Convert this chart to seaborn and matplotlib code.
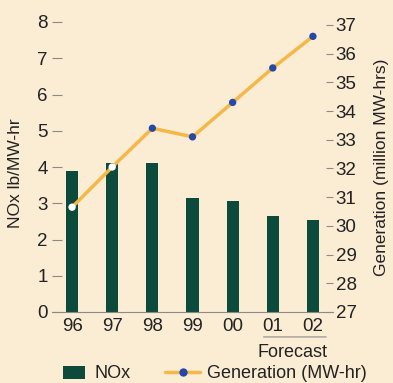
import numpy as np
import pandas as pd
import matplotlib
matplotlib.use("Agg")
import matplotlib.pyplot as plt
import seaborn as sns
from matplotlib.lines import Line2D
from matplotlib.patches import Patch

years = ["96", "97", "98", "99", "00", "01", "02"]
nox = [3.9, 4.1, 4.1, 3.15, 3.05, 2.65, 2.55]
generation = [30.65, 32.05, 33.4, 33.1, 34.3, 35.5, 36.6]
marker_fill = ["white", "white", "#2548a8", "#2548a8", "#2548a8", "#2548a8", "#2548a8"]

sns.set_style("white")
plt.rcParams['font.family'] = ['Liberation Sans', 'DejaVu Sans']

bg = "#fbecd4"
bar_color = "#0c4a3b"
line_color = "#f5b848"
grey = "#8a8a8a"
txt = "#222222"

df = pd.DataFrame({"year": years, "nox": nox, "generation": generation})

fig = plt.figure(figsize=(3.93, 3.83), dpi=100, facecolor=bg)
ax = fig.add_axes([52 / 393, 71 / 383, 281 / 393, 290 / 383])
ax.set_facecolor(bg)

sns.barplot(data=df, x="year", y="nox", color=bar_color, width=0.3,
            saturation=1, ax=ax, zorder=2, linewidth=0, edgecolor="none")
ax.set_xlim(-0.5, 6.5)
ax.set_ylim(0, 8)
ax.set_yticks(range(0, 9))
ax.set_xlabel("")
ax.set_ylabel("NOx lb/MW-hr", fontsize=12.5, color=txt)
ax.yaxis.set_label_coords(-29 / 281, 0.48)
ax.tick_params(axis="y", direction="in", length=7, width=0.8, color=grey,
               labelsize=13.5, pad=3, labelcolor=txt)
ax.tick_params(axis="x", length=0, labelsize=13.5, pad=4, labelcolor=txt)
for s in ["top", "left", "right"]:
    ax.spines[s].set_visible(False)
ax.spines["bottom"].set_color(grey)
ax.spines["bottom"].set_linewidth(0.8)

ax2 = ax.twinx()
x = np.arange(len(years))
ax2.plot(x, generation, color=line_color, lw=2.5, zorder=3)
ax2.scatter(x, generation, c=marker_fill, s=28, zorder=4, edgecolors="none")
ax2.set_ylim(27, 37.1)
ax2.set_yticks(range(27, 38))
ax2.set_ylabel("Generation (million MW-hrs)", fontsize=12.5, color=txt)
ax2.yaxis.set_label_coords(1 + 41 / 281, 0.5)
ax2.tick_params(axis="y", direction="in", length=5, width=0.8, color=grey,
                labelsize=13.5, pad=2, labelcolor=txt)
for s in ["top", "left", "right", "bottom"]:
    ax2.spines[s].set_visible(False)

# forecast bracket under 01-02
ax.annotate("", xy=(4.7, -0.086), xytext=(6.4, -0.086),
            xycoords=("data", "axes fraction"),
            arrowprops=dict(arrowstyle="-", color=grey, lw=0.8))
ax.text(5.5, -0.138, "Forecast", transform=ax.get_xaxis_transform(),
        ha="center", va="center", fontsize=13, color=txt)

fig.legend([Patch(facecolor=bar_color, edgecolor="none")], ["NOx"],
           loc="center left", bbox_to_anchor=(63 / 393, 1 - 374 / 383),
           frameon=False, fontsize=13, borderpad=0, borderaxespad=0,
           handlelength=1.2, handletextpad=0.55, labelcolor=txt)
fig.legend([Line2D([0], [0], color=line_color, lw=2.5, marker="o",
                   markerfacecolor="#2548a8", markeredgecolor="none", markersize=6)],
           ["Generation (MW-hr)"], loc="center left",
           bbox_to_anchor=(165 / 393, 1 - 374 / 383), frameon=False, fontsize=13,
           borderpad=0, borderaxespad=0, handlelength=1.95, handletextpad=0.4,
           labelcolor=txt)

fig.savefig("out.png", dpi=100, facecolor=bg)
